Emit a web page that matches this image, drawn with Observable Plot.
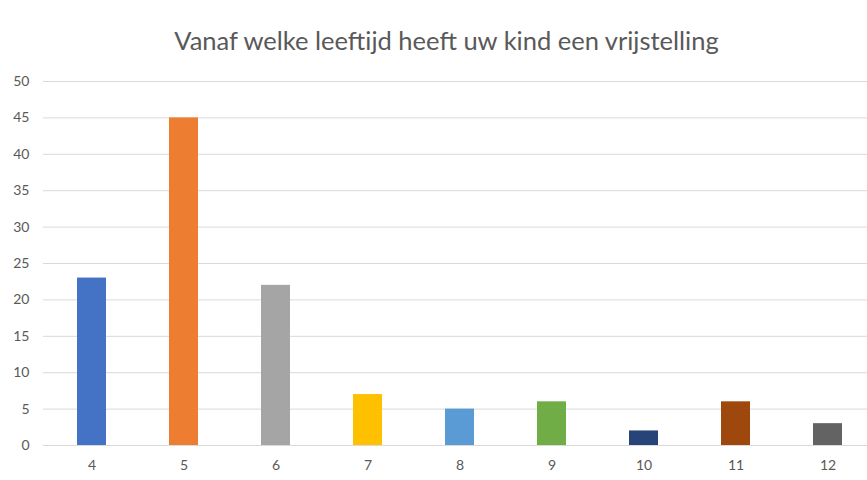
<!DOCTYPE html>
<html>
<head>
<meta charset="utf-8">
<script src="https://cdn.jsdelivr.net/npm/d3@7"></script>
<script src="https://cdn.jsdelivr.net/npm/@observablehq/plot@0.6"></script>
<style>
  html, body { margin: 0; padding: 0; background: #fff; overflow: hidden; }
  #wrap { width: 867px; height: 480px; position: relative; }
  #title { position: absolute; left: 0; top: 25px; width: 893px; text-align: center;
    font-family: Lato, "Open Sans", sans-serif; font-size: 25.5px; color: #595959; }
  #chart { position: absolute; left: 0; top: 70px; }
</style>
</head>
<body>
<div id="wrap">
  <div id="title">Vanaf welke leeftijd heeft uw kind een vrijstelling</div>
  <div id="chart"></div>
</div>
<script>
const ages = ["4", "5", "6", "7", "8", "9", "10", "11", "12"];
const counts = [23, 45, 22, 7, 5, 6, 2, 6, 3];
const colors = ["#4472C4", "#ED7D31", "#A5A5A5", "#FFC000", "#5B9BD5", "#70AD47", "#264478", "#9E480E", "#636363"];
const yTicks = [0, 5, 10, 15, 20, 25, 30, 35, 40, 45, 50];

const data = ages.map((a, i) => ({age: a, count: counts[i], color: colors[i]}));

const chart = Plot.plot({
  width: 867,
  height: 410,
  marginTop: 11,
  marginBottom: 35,
  marginLeft: 43,
  marginRight: 0,
  style: {fontFamily: "Lato, 'Open Sans', sans-serif", fontSize: "14px", color: "#595959", overflow: "visible"},
  x: {domain: ages, range: [45, 873], paddingInner: 0.685, paddingOuter: 0.3425, label: null},
  y: {domain: [0, 50], label: null},
  marks: [
    Plot.ruleY(yTicks, {stroke: "#d9d9d9", strokeWidth: 1}),
    Plot.axisY({ticks: yTicks, tickSize: 0, tickPadding: 14, label: null, fontSize: 14}),
    Plot.axisX({tickSize: 0, tickPadding: 15, label: null, fontSize: 14}),
    Plot.barY(data, {x: "age", y: "count", fill: "color"})
  ]
});
document.getElementById("chart").appendChild(chart);
</script>
</body>
</html>
